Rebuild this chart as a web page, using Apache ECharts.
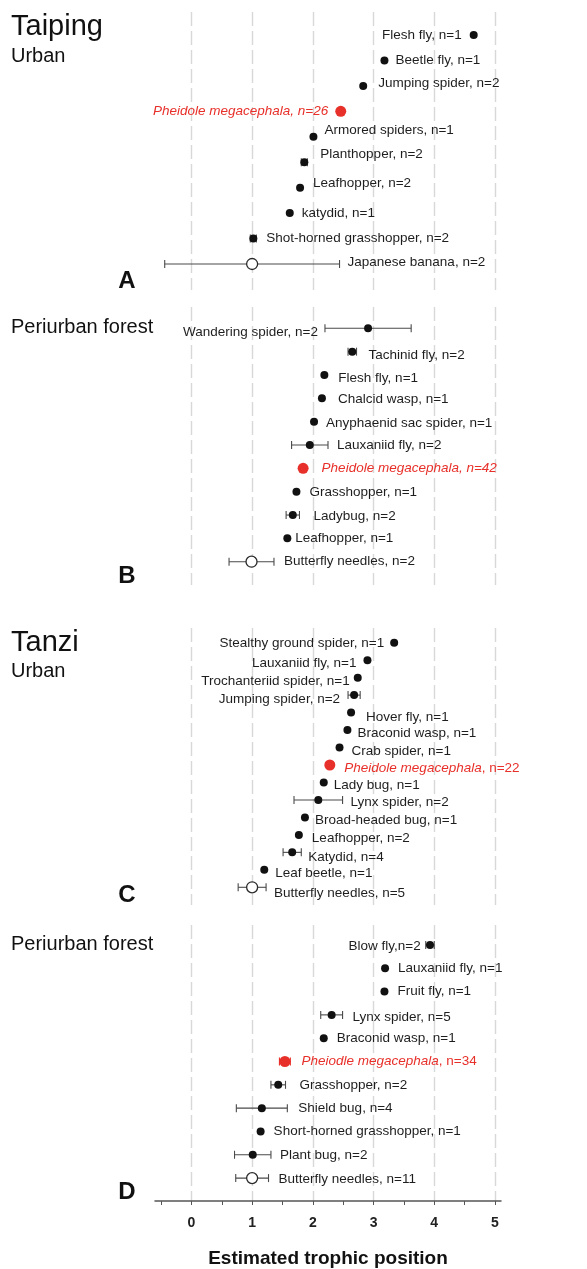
<!DOCTYPE html>
<html>
<head>
<meta charset="utf-8">
<script src="https://cdn.jsdelivr.net/npm/echarts@6/dist/echarts.min.js"></script>
<style>
  html, body { margin: 0; padding: 0; background: #ffffff; }
  #chart { width: 587px; height: 1269px; }
</style>
</head>
<body>
<div id="chart"></div>
<script>
// ---------- values: estimated trophic position (mean ± error) ----------
// role: 'a' = arthropod, 'f' = focal ant (Pheidole), 'p' = plant baseline

// Taiping, urban
const labelsA = ['Flesh fly, n=1', 'Beetle fly, n=1', 'Jumping spider, n=2', 'Pheidole megacephala, n=26',
  'Armored spiders, n=1', 'Planthopper, n=2', 'Leafhopper, n=2', 'katydid, n=1',
  'Shot-horned grasshopper, n=2', 'Japanese banana, n=2'];
const tpA   = [4.65, 3.18, 2.83, 2.46, 2.01, 1.86, 1.79, 1.62, 1.02, 1.00];
const seA   = [0, 0, 0, 0.03, 0, 0.05, 0, 0, 0.05, 1.44];
const roleA = ['a', 'a', 'a', 'f', 'a', 'a', 'a', 'a', 'a', 'p'];

// Taiping, periurban forest
const labelsB = ['Wandering spider, n=2', 'Tachinid fly, n=2', 'Flesh fly, n=1', 'Chalcid wasp, n=1',
  'Anyphaenid sac spider, n=1', 'Lauxaniid fly, n=2', 'Pheidole megacephala, n=42', 'Grasshopper, n=1',
  'Ladybug, n=2', 'Leafhopper, n=1', 'Butterfly needles, n=2'];
const tpB   = [2.91, 2.65, 2.19, 2.15, 2.02, 1.95, 1.84, 1.73, 1.67, 1.58, 0.99];
const seB   = [0.71, 0.07, 0, 0, 0, 0.30, 0.03, 0, 0.11, 0, 0.37];
const roleB = ['a', 'a', 'a', 'a', 'a', 'a', 'f', 'a', 'a', 'a', 'p'];

// Tanzi, urban
const labelsC = ['Stealthy ground spider, n=1', 'Lauxaniid fly, n=1', 'Trochanteriid spider, n=1',
  'Jumping spider, n=2', 'Hover fly, n=1', 'Braconid wasp, n=1', 'Crab spider, n=1',
  'Pheidole megacephala, n=22', 'Lady bug, n=1', 'Lynx spider, n=2', 'Broad-headed bug, n=1',
  'Leafhopper, n=2', 'Katydid, n=4', 'Leaf beetle, n=1', 'Butterfly needles, n=5'];
const tpC   = [3.34, 2.90, 2.74, 2.68, 2.63, 2.57, 2.44, 2.28, 2.18, 2.09, 1.87, 1.77, 1.66, 1.20, 1.00];
const seC   = [0, 0, 0, 0.10, 0, 0, 0, 0.03, 0, 0.40, 0, 0, 0.15, 0, 0.23];
const roleC = ['a', 'a', 'a', 'a', 'a', 'a', 'a', 'f', 'a', 'a', 'a', 'a', 'a', 'a', 'p'];

// Tanzi, periurban forest
const labelsD = ['Blow fly,n=2', 'Lauxaniid fly, n=1', 'Fruit fly, n=1', 'Lynx spider, n=5',
  'Braconid wasp, n=1', 'Pheiodle megacephala, n=34', 'Grasshopper, n=2', 'Shield bug, n=4',
  'Short-horned grasshopper, n=1', 'Plant bug, n=2', 'Butterfly needles, n=11'];
const tpD   = [3.93, 3.19, 3.18, 2.31, 2.18, 1.54, 1.43, 1.16, 1.14, 1.01, 1.00];
const seD   = [0.07, 0, 0, 0.18, 0, 0.09, 0.12, 0.42, 0, 0.30, 0.27];
const roleD = ['a', 'a', 'a', 'a', 'a', 'f', 'a', 'a', 'a', 'a', 'p'];

const tickLabels = [0, 1, 2, 3, 4, 5];
const halfTicks  = [-0.5, 0, 0.5, 1, 1.5, 2, 2.5, 3, 3.5, 4, 4.5, 5];

// ---------- label placement ----------
const labelLeft = { A: [0, 3], B: [0], C: [0, 1, 2, 3], D: [0] };
const labelNudge = {            // [dx, dy] in px
  A: { 0: [1, 0], 1: [-2, 0], 2: [2, -3], 3: [2, 0], 4: [-2, -6], 5: [3, -8], 6: [0, -4], 7: [-1, 0], 9: [-1, -2] },
  B: { 0: [2, 4], 1: [3, 4], 2: [1, 3], 3: [3, 1], 4: [-1, 2], 6: [4, 0], 7: [0, 1], 8: [5, 1], 9: [-5, 0], 10: [1, 0] },
  C: { 0: [3, 1], 1: [2, 3], 2: [5, 4], 3: [1, 4], 4: [2, 5], 5: [-3, 3], 6: [-1, 4], 7: [0, 3], 8: [-3, 3],
       9: [-1, 2], 10: [-3, 3], 11: [0, 3], 12: [-2, 5], 13: [-2, 3], 14: [-1, 6] },
  D: { 0: [4, 1], 3: [1, 2], 5: [2, 0], 6: [5, 0], 7: [2, 0], 9: [0, 1], 10: [1, 1] }
};

const FONT = '"Liberation Sans", Arial, Helvetica, sans-serif';
const RED = '#e8302a';
const X_MIN = -0.6, X_MAX = 5.1;

const panels = [
  { id: 'A', top: 12,  height: 278, yMin: -0.904, yMax: 10.022, labels: labelsA, tp: tpA, se: seA, role: roleA, italicAll: true },
  { id: 'B', top: 307, height: 278, yMin: -0.913, yMax: 10.998, labels: labelsB, tp: tpB, se: seB, role: roleB, italicAll: true },
  { id: 'C', top: 628, height: 277, yMin: -0.841, yMax: 15.013, labels: labelsC, tp: tpC, se: seC, role: roleC, italicAll: false },
  { id: 'D', top: 925, height: 277, yMin: -0.855, yMax: 10.983, labels: labelsD, tp: tpD, se: seD, role: roleD, italicAll: false }
];

function labelText(p, i) {
  const s = p.labels[i];
  if (p.role[i] !== 'f') return { text: s, rich: null };
  if (p.italicAll) return { text: '{i|' + s + '}', rich: true };
  const k = s.indexOf(',');
  return { text: '{i|' + s.slice(0, k) + '}{n|' + s.slice(k) + '}', rich: true };
}

function makeRender(p) {
  return function (params, api) {
    const i = params.dataIndex;
    const v = api.value(0), row = api.value(1), e = api.value(2);
    const c = api.coord([v, row]);
    const cx = c[0], cy = c[1];
    const xLo = api.coord([v - e, row])[0];
    const xHi = api.coord([v + e, row])[0];
    const role = p.role[i];
    const r = role === 'a' ? 4 : 5.5;
    const barColor = role === 'f' ? RED : '#4a4a4a';
    const children = [];
    if (e > 0) {
      const ls = { stroke: barColor, lineWidth: 1.1 };
      children.push({ type: 'line', shape: { x1: xLo, y1: cy, x2: xHi, y2: cy }, style: ls });
      children.push({ type: 'line', shape: { x1: xLo, y1: cy - 4, x2: xLo, y2: cy + 4 }, style: ls });
      children.push({ type: 'line', shape: { x1: xHi, y1: cy - 4, x2: xHi, y2: cy + 4 }, style: ls });
    }
    let mstyle;
    if (role === 'p') mstyle = { fill: '#ffffff', stroke: '#2a2a2a', lineWidth: 1.3 };
    else if (role === 'f') mstyle = { fill: RED };
    else mstyle = { fill: '#111111' };
    children.push({ type: 'circle', shape: { cx: cx, cy: cy, r: r }, style: mstyle });

    const left = labelLeft[p.id].indexOf(i) >= 0;
    const nd = (labelNudge[p.id] || {})[i] || [0, 0];
    const lx = left ? Math.min(xLo, cx - r) - 9 + nd[0] : Math.max(xHi, cx + r) + 9 + nd[0];
    const lt = labelText(p, i);
    const tstyle = {
      text: lt.text,
      x: 0, y: 0,
      fill: role === 'f' ? RED : '#1e1e1e',
      fontSize: 13.5,
      fontFamily: FONT,
      align: left ? 'right' : 'left',
      verticalAlign: 'middle'
    };
    if (lt.rich) {
      tstyle.rich = {
        i: { fontStyle: 'italic', fontSize: 13.5, fontFamily: FONT, fill: RED },
        n: { fontStyle: 'normal', fontSize: 13.5, fontFamily: FONT, fill: RED }
      };
    }
    children.push({ type: 'text', x: lx, y: cy + nd[1], style: tstyle });
    return { type: 'group', children: children };
  };
}

const grids = [], xAxes = [], yAxes = [], series = [];
panels.forEach(function (p, k) {
  grids.push({ left: 155, right: 86, top: p.top, height: p.height });
  // dashed vertical guides at whole trophic levels
  xAxes.push({
    type: 'value', gridIndex: k, min: X_MIN, max: X_MAX, position: 'bottom',
    axisLine: { show: false },
    axisTick: { show: false, customValues: tickLabels },
    axisLabel: { show: false },
    splitLine: { show: true, lineStyle: { color: '#d8d8d8', width: 1.4, type: [14, 5] } }
  });
  yAxes.push({
    type: 'value', gridIndex: k, inverse: true, min: p.yMin, max: p.yMax, show: false,
    splitLine: { show: false }
  });
  series.push({
    type: 'custom', xAxisIndex: k, yAxisIndex: k,
    data: p.tp.map(function (v, i) { return [v, i, p.se[i]]; }),
    encode: { x: 0, y: 1 },
    renderItem: makeRender(p),
    clip: false,
    silent: true
  });
});

// shared trophic-position axis under the bottom panel
xAxes.push({
  type: 'value', gridIndex: 3, min: X_MIN, max: X_MAX, position: 'bottom',
  name: 'Estimated trophic position',
  nameLocation: 'middle',
  nameGap: 48,
  nameTextStyle: { fontFamily: FONT, fontWeight: 'bold', fontSize: 19, color: '#111' },
  axisLine: { show: true, lineStyle: { color: '#555', width: 1.5 } },
  axisTick: { show: true, customValues: halfTicks, length: 4, lineStyle: { color: '#555', width: 1 } },
  axisLabel: { show: true, customValues: tickLabels, margin: 15, fontFamily: FONT, fontWeight: 'bold', fontSize: 14, color: '#222' },
  splitLine: { show: false }
});

function txt(s, x, y, size, bold, align) {
  return {
    type: 'text', x: x, y: y, silent: true,
    style: {
      text: s, fill: '#111', fontFamily: FONT, fontSize: size,
      fontWeight: bold ? 'bold' : 'normal',
      align: align || 'left', verticalAlign: 'middle'
    }
  };
}

const chart = echarts.init(document.getElementById('chart'), null, { renderer: 'canvas' });
chart.setOption({
  backgroundColor: '#ffffff',
  animation: false,
  grid: grids,
  xAxis: xAxes,
  yAxis: yAxes,
  series: series,
  graphic: [
    txt('Taiping', 11, 27, 29, false),
    txt('Urban', 11, 56, 20, false),
    txt('Periurban forest', 11, 327, 20, false),
    txt('Tanzi', 11, 643, 29, false),
    txt('Urban', 11, 671, 20, false),
    txt('Periurban forest', 11, 944, 20, false),
    txt('A', 127, 281, 24, true, 'center'),
    txt('B', 127, 576, 24, true, 'center'),
    txt('C', 127, 895, 24, true, 'center'),
    txt('D', 127, 1192, 24, true, 'center')
  ]
});
</script>
</body>
</html>
